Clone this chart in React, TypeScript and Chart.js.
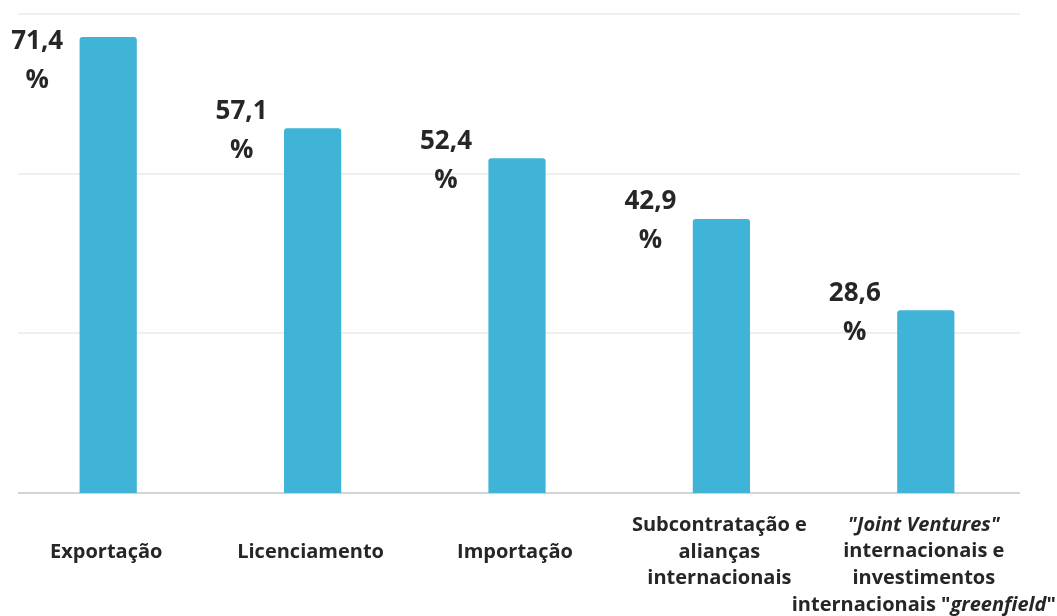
import React, { useEffect, useRef } from "react";
import { Chart, registerables } from "chart.js";

Chart.register(...registerables);

type Seg = [string, boolean];

const categories: string[] = [
  "Exportação",
  "Licenciamento",
  "Importação",
  "Subcontratação e alianças internacionais",
  "\"Joint Ventures\" internacionais e investimentos internacionais \"greenfield\"",
];

const values: number[] = [71.4, 57.1, 52.4, 42.9, 28.6];

const gridTicks: number[] = [0, 25, 50, 75];

const categoryLines: Seg[][][] = [
  [[["Exportação", false]]],
  [[["Licenciamento", false]]],
  [[["Importação", false]]],
  [
    [["Subcontratação e", false]],
    [["alianças", false]],
    [["internacionais", false]],
  ],
  [
    [["\"Joint Ventures\"", true]],
    [["internacionais e", false]],
    [["investimentos", false]],
    [["internacionais \"", false], ["greenfield", true], ["\"", false]],
  ],
];

const FONT = "'Open Sans', 'Noto Sans', sans-serif";
const BAR_COLOR = "#40b4d6";
const TEXT_COLOR = "#262626";

const fmt = (v: number) => v.toFixed(1).replace(".", ",");

const decorPlugin = {
  id: "decor",
  beforeDatasetsDraw(chart: any) {
    const { ctx, chartArea, scales } = chart;
    ctx.save();
    gridTicks.forEach((t) => {
      const y = Math.round(scales.y.getPixelForValue(t));
      ctx.beginPath();
      if (t === 0) {
        ctx.strokeStyle = "#c6c6c6";
        ctx.lineWidth = 1.5;
      } else {
        ctx.strokeStyle = "#efefef";
        ctx.lineWidth = 2;
      }
      ctx.moveTo(chartArea.left + 12, y);
      ctx.lineTo(chartArea.right - 8, y);
      ctx.stroke();
    });
    ctx.restore();
  },
  afterDatasetsDraw(chart: any) {
    const { ctx, scales } = chart;
    const meta = chart.getDatasetMeta(0);
    ctx.save();
    ctx.fillStyle = TEXT_COLOR;
    ctx.textAlign = "center";
    ctx.textBaseline = "middle";
    // value labels
    ctx.font = `bold 26px ${FONT}`;
    meta.data.forEach((bar: any, i: number) => {
      const x = bar.x - 71;
      const y = Math.max(bar.y - 17, 42);
      ctx.fillText(fmt(values[i]), x, y);
      ctx.fillText("%", x, y + 39);
    });
    // category labels
    const lh = 26.7;
    const center = 552;
    const top = 525;
    const fs = 20;
    categoryLines.forEach((lines, i) => {
      const cx = scales.x.getPixelForValue(i) - 2;
      const n = lines.length;
      let y0 = center - ((n - 1) * lh) / 2;
      if (y0 < top) y0 = top;
      lines.forEach((segs, li) => {
        const y = y0 + li * lh;
        let total = 0;
        const widths = segs.map(([txt, it]) => {
          ctx.font = `${it ? "italic " : ""}bold ${fs}px ${FONT}`;
          const w = ctx.measureText(txt).width;
          total += w;
          return w;
        });
        let x = cx - total / 2;
        ctx.textAlign = "left";
        segs.forEach(([txt, it], si) => {
          ctx.font = `${it ? "italic " : ""}bold ${fs}px ${FONT}`;
          ctx.fillText(txt, x, y);
          x += widths[si];
        });
      });
    });
    ctx.restore();
  },
};

export default function App() {
  const ref = useRef<HTMLCanvasElement | null>(null);
  useEffect(() => {
    if (!ref.current) return;
    const chart = new Chart(ref.current, {
      type: "bar",
      data: {
        labels: categories,
        datasets: [
          {
            data: values,
            backgroundColor: BAR_COLOR,
            borderRadius: { topLeft: 3, topRight: 3, bottomLeft: 0, bottomRight: 0 },
            borderSkipped: "bottom",
            barPercentage: 0.28,
            categoryPercentage: 1,
          },
        ],
      },
      options: {
        responsive: false,
        animation: false,
        layout: { padding: { left: 6, right: 29, top: 14, bottom: 123 } },
        plugins: { legend: { display: false }, tooltip: { enabled: false } },
        scales: {
          x: { display: false, offset: true },
          y: { display: false, min: 0, max: 75 },
        },
      },
      plugins: [decorPlugin],
    });
    return () => chart.destroy();
  }, []);
  return (
    <div style={{ position: "fixed", left: 0, top: 0, width: 1057, height: 616, background: "#fff" }}>
      <canvas ref={ref} width={1057} height={616} />
    </div>
  );
}
